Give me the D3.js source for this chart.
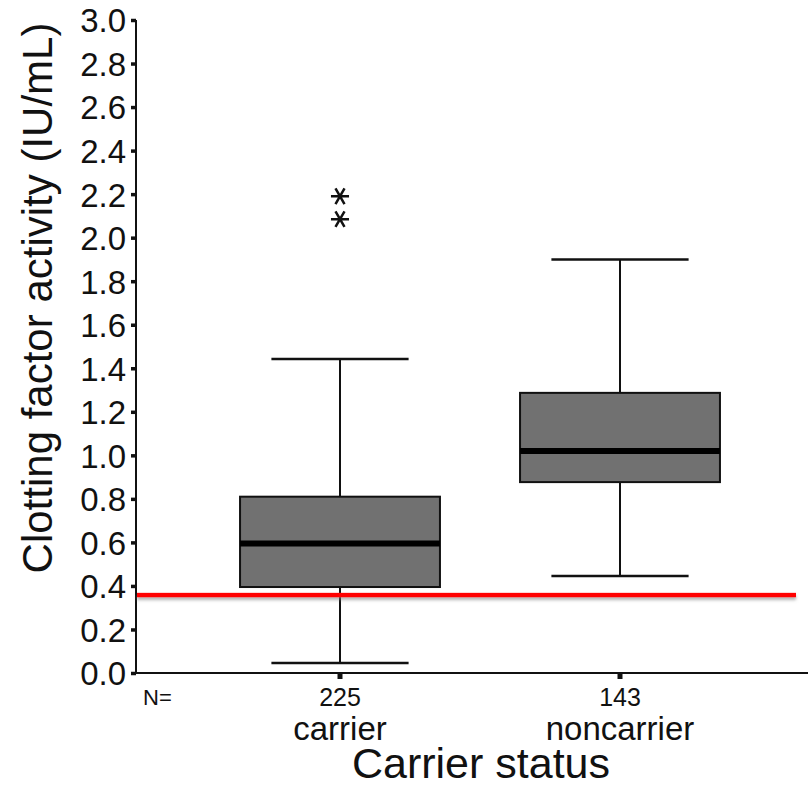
<!DOCTYPE html>
<html>
<head>
<meta charset="utf-8">
<script src="https://cdnjs.cloudflare.com/ajax/libs/d3/7.8.5/d3.min.js"></script>
<style>
  body { margin:0; background:#fff; }
  text { font-family: "Liberation Sans", Arial, sans-serif; fill:#111; }
</style>
</head>
<body>
<div class="canvas"></div>
<script>
// data
const categories = ["carrier", "noncarrier"];
const counts = [225, 143];
const whiskerLow = [0.046, 0.446];
const q1 = [0.395, 0.877];
const median = [0.595, 1.02];
const q3 = [0.81, 1.287];
const whiskerHigh = [1.442, 1.90];
const outliers = [[2.19, 2.085], []];
const yTicks = [0, 0.2, 0.4, 0.6, 0.8, 1.0, 1.2, 1.4, 1.6, 1.8, 2.0, 2.2, 2.4, 2.6, 2.8, 3.0];
const threshold = 0.358;

const dim = { width: 808, height: 788 };
const svg = d3.select(".canvas").append("svg").attr("width", dim.width).attr("height", dim.height);

const axisX = 136;
const y = d3.scaleLinear().domain([0, 3]).range([673, 20]);
const x = d3.scaleBand().domain(categories).range([200, 760]);

const defs = svg.append("defs");
const f = defs.append("filter").attr("id", "shadow").attr("filterUnits", "userSpaceOnUse")
  .attr("x", 0).attr("y", 0).attr("width", dim.width).attr("height", dim.height);
f.append("feDropShadow").attr("dx", 0).attr("dy", 2.5).attr("stdDeviation", 1.8).attr("flood-color", "#777").attr("flood-opacity", 0.6);

// y axis
const yAxis = svg.append("g").attr("transform", `translate(${axisX},0)`)
  .call(d3.axisLeft(y).tickValues(yTicks).tickFormat(d3.format(".1f")).tickSize(5).tickPadding(5));
yAxis.select(".domain").attr("stroke", "#111").attr("stroke-width", 2).attr("d", `M0,${y(3)}V${y(0)}`);
yAxis.selectAll(".tick line").attr("stroke", "#111").attr("stroke-width", 3.5);
yAxis.selectAll(".tick text").attr("font-size", 33).attr("dy", "0.36em")
  .style("font-family", '"Liberation Sans", Arial, sans-serif').attr("fill", "#1a1a1a");

// x axis
const xAxis = svg.append("g").attr("transform", `translate(0,${y(0)})`)
  .call(d3.axisBottom(x).tickSize(6).tickFormat(""));
xAxis.select(".domain").attr("stroke", "#111").attr("stroke-width", 2).attr("d", `M${axisX},0H${dim.width}`);
xAxis.selectAll(".tick line").attr("stroke", "#111").attr("stroke-width", 5);

// N= and counts
svg.append("text").attr("x", 143).attr("y", 705).attr("font-size", 22).text("N=");
svg.selectAll(".count").data(categories).join("text").attr("class", "count")
  .attr("x", d => x(d) + x.bandwidth() / 2).attr("y", 706)
  .attr("text-anchor", "middle").attr("font-size", 25)
  .text((d, i) => counts[i]);
svg.selectAll(".cat").data(categories).join("text").attr("class", "cat")
  .attr("x", d => x(d) + x.bandwidth() / 2).attr("y", 740)
  .attr("text-anchor", "middle").attr("font-size", 33)
  .text(d => d);

svg.append("text").attr("x", 481).attr("y", 778).attr("text-anchor", "middle")
  .attr("font-size", 43).text("Carrier status");

svg.append("text").attr("transform", `translate(52,298) rotate(-90)`)
  .attr("text-anchor", "middle").attr("font-size", 42).text("Clotting factor activity (IU/mL)");

// boxes
const boxW = x.bandwidth() * 0.714;
const capW = x.bandwidth() * 0.49;
const g = svg.selectAll(".box").data(categories).join("g").attr("class", "box")
  .attr("transform", d => `translate(${x(d) + x.bandwidth() / 2},0)`);

g.append("line").attr("x1", 0).attr("x2", 0)
  .attr("y1", (d, i) => y(whiskerHigh[i])).attr("y2", (d, i) => y(whiskerLow[i]))
  .attr("stroke", "#111").attr("stroke-width", 2);
g.append("line").attr("x1", -capW / 2).attr("x2", capW / 2)
  .attr("y1", (d, i) => y(whiskerHigh[i])).attr("y2", (d, i) => y(whiskerHigh[i]))
  .attr("stroke", "#111").attr("stroke-width", 2.5);
g.append("line").attr("x1", -capW / 2).attr("x2", capW / 2)
  .attr("y1", (d, i) => y(whiskerLow[i])).attr("y2", (d, i) => y(whiskerLow[i]))
  .attr("stroke", "#111").attr("stroke-width", 2.5);
g.append("rect").attr("x", -boxW / 2).attr("width", boxW)
  .attr("y", (d, i) => y(q3[i])).attr("height", (d, i) => y(q1[i]) - y(q3[i]))
  .attr("fill", "#717171").attr("stroke", "#111").attr("stroke-width", 2);
g.append("line").attr("x1", -boxW / 2).attr("x2", boxW / 2)
  .attr("y1", (d, i) => y(median[i])).attr("y2", (d, i) => y(median[i]))
  .attr("stroke", "#000").attr("stroke-width", 6);

g.selectAll(".out").data((d, i) => outliers[i]).join("path").attr("class", "out")
  .attr("transform", v => `translate(0,${y(v)}) rotate(90)`)
  .attr("d", d3.symbol(d3.symbolAsterisk, 230))
  .attr("stroke", "#111").attr("stroke-width", 2.5).attr("fill", "none");

// threshold line
svg.append("rect").attr("x", axisX + 1).attr("width", 796 - axisX - 1)
  .attr("y", y(threshold) - 2.25).attr("height", 4.5)
  .attr("fill", "#ff0000").attr("filter", "url(#shadow)");
</script>
</body>
</html>
